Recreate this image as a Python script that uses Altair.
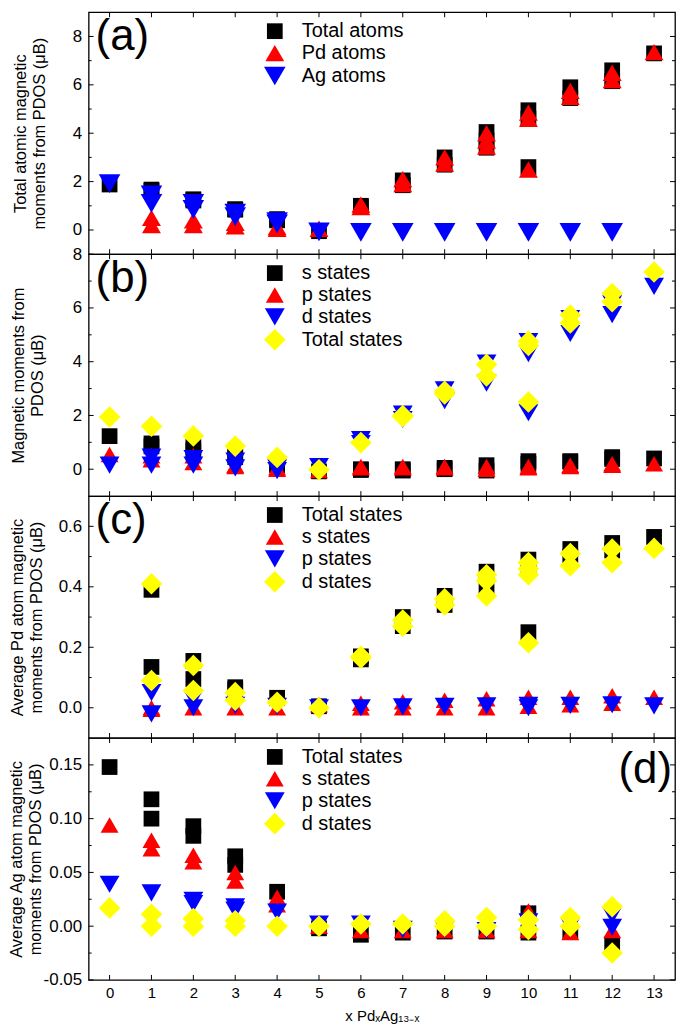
import altair as alt
import pandas as pd

FONT = "Liberation Sans"
W, H = 589, 243

# ---------------- data ----------------
# Panel (a)
a_total_x = [0, 1, 1, 2, 2, 3, 3, 4, 4, 5, 6, 6, 7, 7, 8, 8, 9, 9, 9, 10, 10, 10, 11, 11, 12, 12, 13]
a_total_y = [1.88, 1.67, 1.62, 1.27, 1.22, 0.86, 0.84, 0.45, 0.40, -0.05, 1.00, 0.95, 2.05, 1.85, 3.00, 2.70,
             4.05, 3.70, 3.40, 4.95, 4.60, 2.60, 5.90, 5.45, 6.60, 6.15, 7.30]
a_pd_x = [1, 1, 2, 2, 3, 3, 4, 4, 5, 6, 6, 7, 7, 8, 8, 9, 9, 9, 10, 10, 10, 11, 11, 12, 12, 13]
a_pd_y = [0.50, 0.20, 0.40, 0.20, 0.30, 0.15, 0.12, 0.05, 0.05, 1.05, 0.95, 2.10, 1.90, 3.00, 2.75,
          4.00, 3.70, 3.45, 4.85, 4.60, 2.50, 5.75, 5.50, 6.50, 6.20, 7.35]
a_ag_x = [0, 1, 1, 2, 2, 3, 3, 4, 4, 5, 6, 7, 8, 9, 10, 11, 12]
a_ag_y = [1.92, 1.45, 1.10, 1.10, 0.85, 0.70, 0.55, 0.35, 0.25, -0.08, -0.10, -0.10, -0.10, -0.10, -0.10, -0.10, -0.10]

# Panel (b)
b_s_x = [0, 1, 1, 2, 2, 3, 3, 4, 4, 5, 6, 6, 7, 7, 8, 8, 9, 9, 10, 10, 11, 11, 12, 12, 13]
b_s_y = [1.23, 0.96, 0.85, 0.83, 0.70, 0.55, 0.45, 0.20, 0.15, -0.08, 0.00, -0.03, 0.00, -0.05, 0.05, 0.00,
         0.15, -0.05, 0.30, 0.20, 0.30, 0.28, 0.45, 0.38, 0.40]
b_p_x = [0, 1, 1, 2, 2, 3, 3, 4, 4, 5, 6, 6, 7, 7, 8, 8, 9, 9, 10, 10, 11, 11, 12, 12, 13]
b_p_y = [0.55, 0.50, 0.35, 0.50, 0.25, 0.15, 0.10, 0.05, 0.00, -0.05, 0.10, 0.05, 0.10, 0.05, 0.10, 0.05,
         0.10, 0.00, 0.10, 0.05, 0.15, 0.10, 0.20, 0.15, 0.20]
b_d_x = [0, 1, 1, 2, 2, 3, 3, 4, 4, 5, 6, 6, 7, 7, 8, 8, 9, 9, 10, 10, 10, 11, 11, 12, 12, 13]
b_d_y = [0.15, 0.45, 0.15, 0.40, 0.15, 0.30, 0.05, 0.05, -0.05, 0.10, 1.10, 0.95, 2.05, 1.85, 2.95, 2.55,
         3.95, 3.20, 4.75, 4.30, 2.10, 5.60, 5.05, 6.15, 5.75, 6.80]
b_t_x = [0, 1, 2, 3, 4, 5, 6, 7, 7, 8, 8, 9, 9, 10, 10, 10, 11, 11, 12, 12, 13]
b_t_y = [1.94, 1.60, 1.24, 0.86, 0.44, -0.02, 0.99, 2.00, 1.95, 2.90, 2.80, 3.90, 3.47, 4.76, 4.60, 2.50,
         5.74, 5.44, 6.54, 6.23, 7.34]

# Panel (c)
c_t_x = [1, 1, 2, 2, 3, 3, 4, 5, 6, 6, 7, 7, 8, 8, 9, 9, 10, 10, 10, 11, 11, 12, 12, 13]
c_t_y = [0.39, 0.135, 0.155, 0.095, 0.068, 0.060, 0.033, 0.005, 0.170, 0.160, 0.300, 0.270, 0.370, 0.340,
         0.450, 0.395, 0.490, 0.460, 0.250, 0.525, 0.500, 0.545, 0.520, 0.565]
c_s_x = [1, 1, 2, 3, 4, 5, 6, 6, 7, 7, 8, 8, 9, 9, 10, 10, 11, 11, 12, 12, 13]
c_s_y = [0.000, -0.005, 0.000, 0.000, 0.000, 0.010, 0.015, 0.000, 0.020, 0.000, 0.025, 0.000, 0.030, 0.000,
         0.035, 0.005, 0.035, 0.010, 0.040, 0.015, 0.035]
c_p_x = [1, 1, 2, 2, 3, 4, 5, 6, 7, 8, 9, 10, 10, 11, 12, 13]
c_p_y = [0.050, -0.020, 0.030, 0.000, 0.008, 0.005, 0.000, 0.000, 0.003, 0.005, 0.006, 0.008, 0.000,
         0.008, 0.010, 0.006]
c_d_x = [1, 1, 2, 2, 3, 3, 4, 5, 6, 6, 7, 7, 8, 8, 9, 9, 9, 10, 10, 10, 10, 11, 11, 12, 12, 13]
c_d_y = [0.410, 0.090, 0.140, 0.057, 0.050, 0.025, 0.018, 0.000, 0.170, 0.165, 0.290, 0.270, 0.360, 0.340,
         0.440, 0.420, 0.370, 0.480, 0.460, 0.440, 0.215, 0.510, 0.470, 0.525, 0.480, 0.527]

# Panel (d)
d_t_x = [0, 1, 1, 2, 2, 3, 3, 4, 5, 6, 7, 8, 9, 10, 10, 11, 12]
d_t_y = [0.148, 0.118, 0.100, 0.093, 0.084, 0.065, 0.057, 0.032, -0.002, -0.008, -0.006, -0.005, -0.005,
         0.012, -0.006, -0.005, -0.017]
d_s_x = [0, 1, 1, 2, 2, 3, 3, 4, 4, 5, 6, 7, 8, 9, 10, 10, 11, 12]
d_s_y = [0.094, 0.080, 0.072, 0.066, 0.060, 0.050, 0.042, 0.027, 0.020, 0.000, -0.004, -0.004, -0.004,
         -0.004, 0.014, -0.004, -0.006, -0.004]
d_p_x = [0, 1, 2, 2, 3, 3, 4, 5, 6, 7, 8, 9, 10, 11, 12, 12]
d_p_y = [0.039, 0.031, 0.024, 0.021, 0.018, 0.015, 0.013, 0.002, 0.002, -0.003, -0.003, -0.004, 0.004,
         0.000, 0.010, -0.001]
d_d_x = [0, 1, 1, 2, 2, 3, 3, 4, 5, 6, 7, 8, 8, 9, 9, 10, 10, 11, 11, 12, 12]
d_d_y = [0.017, 0.011, 0.000, 0.007, 0.000, 0.005, 0.000, 0.000, 0.000, 0.002, 0.002, 0.005, 0.000,
         0.008, 0.000, 0.006, -0.003, 0.008, 0.000, 0.018, -0.025]

# tick values
x_major = list(range(0, 14))
a_major = [0, 2, 4, 6, 8]
a_minor = [1, 3, 5, 7]
b_major = [0, 2, 4, 6, 8]
b_minor = [1, 3, 5, 7]
c_major = [0.0, 0.2, 0.4, 0.6]
c_minor = [0.1, 0.3, 0.5]
d_major = [-0.05, 0.0, 0.05, 0.10, 0.15]
d_minor = [-0.025, 0.025, 0.075, 0.125]

BLACK, RED, BLUE, YELLOW = "#000000", "#ff0000", "#0000ff", "#ffff00"
SQ, TU, TD, DI = "square", "triangle-up", "triangle-down", "diamond"
SIZE = {SQ: 250, TU: 470, TD: 470, DI: 430}

XDOM = [-0.5, 13.5]


def build_df(series):
    rows = []
    for name, xs, ys in series:
        for xv, yv in zip(xs, ys):
            rows.append({"x": xv, "y": yv, "s": name})
    return pd.DataFrame(rows)


def panel(series, styles, ydom, major, minor, fmt_expr, title, title_x, letter, letter_right, show_x):
    df = build_df(series)
    names = [s[0] for s in series]
    colors = [st[0] for st in styles]
    shapes = [st[1] for st in styles]
    sizes = [SIZE[st[1]] for st in styles]
    yscale = alt.Scale(domain=ydom, nice=False, zero=False)
    xscale = alt.Scale(domain=XDOM, nice=False, zero=False)
    leg = alt.Legend(orient="none", legendX=176, legendY=9, title=None, labelFontSize=20,
                     labelFont=FONT, labelColor="black", labelOffset=16, rowPadding=2, padding=0,
                     symbolStrokeWidth=0, symbolOpacity=1)
    yaxis = alt.Axis(values=major, labelExpr=fmt_expr, title=title, titleFont=FONT, titleFontSize=16.5,
                     titleFontWeight="normal", titleColor="black", titleX=title_x, titleY=H / 2,
                     titleAngle=270, titleAlign="center", titleBaseline="bottom", titleLineHeight=19,
                     labelFont=FONT, labelFontSize=17, labelColor="black", labelPadding=7,
                     ticks=False, tickSize=0, domain=False, grid=False, labelOverlap=False)
    if show_x:
        xaxis = alt.Axis(values=x_major, format="d", title="x  Pd\u2093Ag\u2081\u2083\u208b\u2093",
                         titleFont=FONT, titleFontSize=15, titleFontWeight="normal", titleColor="black",
                         labelFont=FONT, labelFontSize=15, labelColor="black", labelPadding=6,
                         titlePadding=8, ticks=False, tickSize=0, domain=False, grid=False,
                         labelFlush=False, labelOverlap=False)
    else:
        xaxis = None

    pts = alt.Chart(df).mark_point(filled=True, opacity=1, strokeWidth=0).encode(
        x=alt.X("x:Q", scale=xscale, axis=xaxis),
        y=alt.Y("y:Q", scale=yscale, axis=yaxis),
        color=alt.Color("s:N", scale=alt.Scale(domain=names, range=colors), legend=leg),
        shape=alt.Shape("s:N", scale=alt.Scale(domain=names, range=shapes), legend=leg),
        size=alt.Size("s:N", scale=alt.Scale(domain=names, range=sizes), legend=leg),
    )

    def yrule(vals, x0, x1):
        return alt.Chart(pd.DataFrame({"y": vals})).mark_rule(color="black", strokeWidth=1).encode(
            y=alt.Y("y:Q", scale=yscale, axis=yaxis), x=alt.value(x0), x2=alt.value(x1))

    def xrule(y0, y1):
        return alt.Chart(pd.DataFrame({"x": x_major})).mark_rule(color="black", strokeWidth=1).encode(
            x=alt.X("x:Q", scale=xscale, axis=xaxis), y=alt.value(y0), y2=alt.value(y1))

    ticks = [yrule(major, 0, 5), yrule(minor, 0, 3), yrule(major, W, W - 5), yrule(minor, W, W - 3),
             xrule(H, H - 5), xrule(0, 5)]

    if letter_right:
        lab = alt.Chart(pd.DataFrame({"t": [letter]})).mark_text(
            font=FONT, fontSize=44, align="right", baseline="middle", color="black").encode(
            text="t:N", x=alt.value(W - 3), y=alt.value(32))
    else:
        lab = alt.Chart(pd.DataFrame({"t": [letter]})).mark_text(
            font=FONT, fontSize=44, align="left", baseline="middle", color="black").encode(
            text="t:N", x=alt.value(7), y=alt.value(25))

    return alt.layer(pts, *ticks, lab).properties(width=W, height=H)


int_fmt = "format(datum.value, 'd')"
c_fmt = "format(datum.value, '.1f')"
d_fmt = "datum.value < 0 ? '-' + format(-datum.value, '.2f') : format(datum.value, '.2f')"

pa = panel([("Total atoms", a_total_x, a_total_y), ("Pd atoms", a_pd_x, a_pd_y), ("Ag atoms", a_ag_x, a_ag_y)],
           [(BLACK, SQ), (RED, TU), (BLUE, TD)], [-1, 9], a_major, a_minor, int_fmt,
           ["Total atomic magnetic", "moments from PDOS (\u03bcB)"], -60, "(a)", False, False)
pb = panel([("s states", b_s_x, b_s_y), ("p states", b_p_x, b_p_y), ("d states", b_d_x, b_d_y),
            ("Total states", b_t_x, b_t_y)],
           [(BLACK, SQ), (RED, TU), (BLUE, TD), (YELLOW, DI)], [-1, 8], b_major, b_minor, int_fmt,
           ["Magnetic moments from", "PDOS  (\u03bcB)"], -62, "(b)", False, False)
pc = panel([("Total states", c_t_x, c_t_y), ("s states", c_s_x, c_s_y), ("p states", c_p_x, c_p_y),
            ("d states", c_d_x, c_d_y)],
           [(BLACK, SQ), (RED, TU), (BLUE, TD), (YELLOW, DI)], [-0.1, 0.7], c_major, c_minor, c_fmt,
           ["Average Pd atom magnetic", "moments from PDOS (\u03bcB)"], -63, "(c)", False, False)
pd_ = panel([("Total states", d_t_x, d_t_y), ("s states", d_s_x, d_s_y), ("p states", d_p_x, d_p_y),
             ("d states", d_d_x, d_d_y)],
            [(BLACK, SQ), (RED, TU), (BLUE, TD), (YELLOW, DI)], [-0.05, 0.175], d_major, d_minor, d_fmt,
            ["Average Ag atom magnetic", "moments from PDOS (\u03bcB)"], -64, "(d)", True, True)

chart = alt.vconcat(pa, pb, pc, pd_, spacing=0, bounds="flush").resolve_scale(
    color="independent", shape="independent", size="independent"
).resolve_legend(color="independent", shape="independent", size="independent").properties(
    padding={"left": 0, "top": 0, "right": 0, "bottom": 0}, background="white"
).configure_view(stroke="black", strokeWidth=1.3)

chart.save("out.html", embed_options={"renderer": "svg", "actions": False})
